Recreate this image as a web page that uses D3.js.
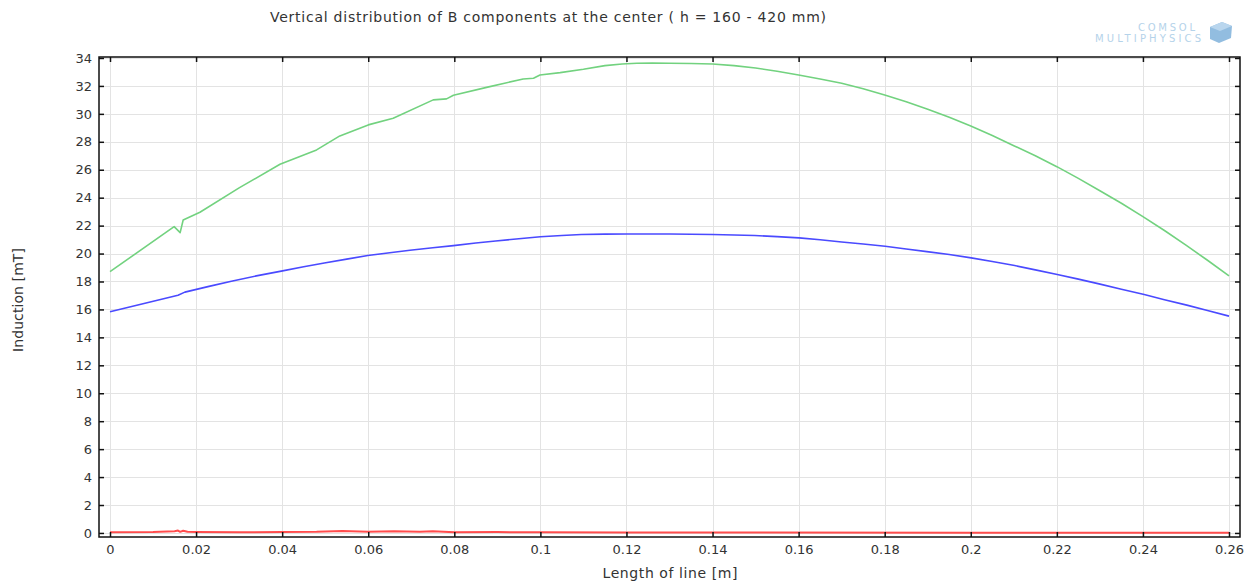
<!DOCTYPE html>
<html><head><meta charset="utf-8">
<script src="https://cdn.jsdelivr.net/npm/d3@7"></script>
<style>
html,body{margin:0;padding:0;background:#fff;}
text{font-family:"DejaVu Sans",sans-serif;fill:#333;}
</style></head>
<body>
<svg id="chart" width="1258" height="586"></svg>
<script>
// ---- data ----
const xTicks = [0,0.02,0.04,0.06,0.08,0.1,0.12,0.14,0.16,0.18,0.2,0.22,0.24,0.26];
const yTicks = [0,2,4,6,8,10,12,14,16,18,20,22,24,26,28,30,32,34];
const greenX = [0,0.0149,0.0163,0.0170,0.0209,0.0300,0.0395,0.0480,0.0534,0.0600,0.0658,0.0751,0.0782,0.0798,0.0880,0.0960,0.0984,0.0999,0.1046,0.1100,0.1150,0.1190,0.1224,0.1260,0.1300,0.1350,0.1400,0.1450,0.1500,0.1550,0.1600,0.1650,0.1700,0.1750,0.1800,0.1850,0.1900,0.1950,0.2000,0.2050,0.2100,0.2150,0.2200,0.2250,0.2300,0.2350,0.2400,0.2450,0.2500,0.2550,0.2600];
const greenY = [18.70,21.93,21.50,22.40,22.96,24.70,26.39,27.42,28.42,29.21,29.68,31.00,31.07,31.33,31.93,32.50,32.55,32.78,32.95,33.19,33.45,33.57,33.62,33.63,33.62,33.60,33.57,33.45,33.28,33.05,32.78,32.50,32.19,31.80,31.35,30.87,30.33,29.75,29.13,28.45,27.72,27.00,26.22,25.38,24.50,23.60,22.64,21.65,20.60,19.52,18.40];
const blueX = [0,0.0158,0.0174,0.0230,0.0282,0.0340,0.0398,0.0450,0.0498,0.0550,0.0599,0.0650,0.0697,0.0750,0.0798,0.0850,0.0896,0.0950,0.1000,0.1050,0.1095,0.1150,0.1202,0.1250,0.1300,0.1350,0.1400,0.1450,0.1498,0.1550,0.1601,0.1650,0.1700,0.1750,0.1801,0.1850,0.1898,0.1950,0.2001,0.2050,0.2102,0.2150,0.2201,0.2250,0.2298,0.2350,0.2403,0.2450,0.2502,0.2550,0.2600];
const blueY = [15.83,17.02,17.24,17.65,18.02,18.40,18.74,19.05,19.33,19.60,19.86,20.06,20.24,20.42,20.57,20.75,20.90,21.06,21.20,21.29,21.36,21.39,21.40,21.40,21.40,21.38,21.36,21.33,21.29,21.21,21.12,20.99,20.83,20.68,20.52,20.33,20.14,19.93,19.69,19.43,19.14,18.83,18.50,18.17,17.83,17.45,17.07,16.70,16.31,15.92,15.52];
const redX = [0,0.010,0.015,0.0158,0.0163,0.0170,0.018,0.020,0.030,0.040,0.048,0.054,0.060,0.066,0.072,0.075,0.080,0.090,0.100,0.120,0.150,0.200,0.260];
const redY = [0.05,0.06,0.12,0.17,0.08,0.16,0.08,0.07,0.05,0.06,0.08,0.14,0.09,0.13,0.09,0.13,0.05,0.06,0.05,0.04,0.03,0.02,0.02];

const titleText = "Vertical distribution of B components at the center ( h = 160 - 420 mm)";
const xLabel = "Length of line [m]";
const yLabel = "Induction [mT]";

// ---- layout ----
const L = 99, R = 1240, T = 57, B = 537;
const xPad = 0.26*11/1119;
const x = d3.scaleLinear().domain([-xPad, 0.26+xPad]).range([L, R]);
const y = d3.scaleLinear().domain([-0.29, 34.07]).range([B, T]);

const svg = d3.select("#chart");

// grid
const grid = svg.append("g").attr("stroke","#e3e3e3").attr("stroke-width",1);
grid.selectAll(".gx").data(xTicks).enter().append("line")
  .attr("x1",d=>Math.round(x(d))+0.5).attr("x2",d=>Math.round(x(d))+0.5)
  .attr("y1",T).attr("y2",B);
grid.selectAll(".gy").data(yTicks).enter().append("line")
  .attr("y1",d=>Math.round(y(d))+0.5).attr("y2",d=>Math.round(y(d))+0.5)
  .attr("x1",L).attr("x2",R);

// lines
function draw(xs, ys, color, w) {
  const pts = xs.map((v,i)=>[v, ys[i]]);
  svg.append("path").datum(pts)
    .attr("fill","none").attr("stroke",color).attr("stroke-width",w)
    .attr("stroke-linejoin","round")
    .attr("d", d3.line().x(d=>x(d[0])).y(d=>y(d[1])).curve(d3.curveLinear));
}
draw(redX, redY, "#ff4d4d", 2);
draw(blueX, blueY, "#4a4aff", 1.6);
draw(greenX, greenY, "#72d27f", 1.6);

// axes
const fmt = d => String(d);
const ax = svg.append("g").attr("transform",`translate(0,${B})`)
  .call(d3.axisBottom(x).tickValues(xTicks).tickFormat(fmt).tickSize(-5).tickPadding(8));
const ay = svg.append("g").attr("transform",`translate(${L},0)`)
  .call(d3.axisLeft(y).tickValues(yTicks).tickFormat(fmt).tickSize(-5).tickPadding(7));
const at = svg.append("g").attr("transform",`translate(0,${T})`)
  .call(d3.axisTop(x).tickValues(xTicks).tickFormat("").tickSize(-5));
const ar = svg.append("g").attr("transform",`translate(${R},0)`)
  .call(d3.axisRight(y).tickValues(yTicks).tickFormat("").tickSize(-5));
[ax,ay,at,ar].forEach(g=>{
  g.select(".domain").remove();
  g.selectAll(".tick line").attr("stroke","#111").attr("stroke-width",1.5);
  g.selectAll(".tick text").attr("font-size",13).attr("fill","#333").attr("font-family","DejaVu Sans");
});

// frame
svg.append("rect").attr("x",L).attr("y",T).attr("width",R-L).attr("height",B-T)
  .attr("fill","none").attr("stroke","#111").attr("stroke-width",1.5);

// texts
svg.append("text").attr("x",548).attr("y",22).attr("text-anchor","middle")
  .attr("font-size",14).attr("textLength",556).attr("lengthAdjust","spacing").text(titleText);
svg.append("text").attr("x",670).attr("y",578).attr("text-anchor","middle")
  .attr("font-size",14).attr("textLength",135).attr("lengthAdjust","spacing").text(xLabel);
svg.append("text").attr("transform","translate(23,300) rotate(-90)").attr("text-anchor","middle")
  .attr("font-size",14).attr("textLength",104).attr("lengthAdjust","spacing").text(yLabel);

// logo
const logo = svg.append("g");
logo.append("text").attr("x",1138).attr("y",31)
  .attr("font-size",10).attr("textLength",57).style("fill","#b5d3ea").text("COMSOL");
logo.append("text").attr("x",1095).attr("y",42)
  .attr("font-size",10).attr("textLength",106).style("fill","#b5d3ea").text("MULTIPHYSICS");
logo.append("path").attr("d","M1210,27 L1222,22 L1232,26 L1231,38 L1219,43 L1210,39 Z")
  .attr("fill","#7fb1da").attr("opacity",0.85);
logo.append("path").attr("d","M1210,27 L1222,22 L1232,26 L1220,31 Z").attr("fill","#b9d6ee");
</script>
</body></html>
